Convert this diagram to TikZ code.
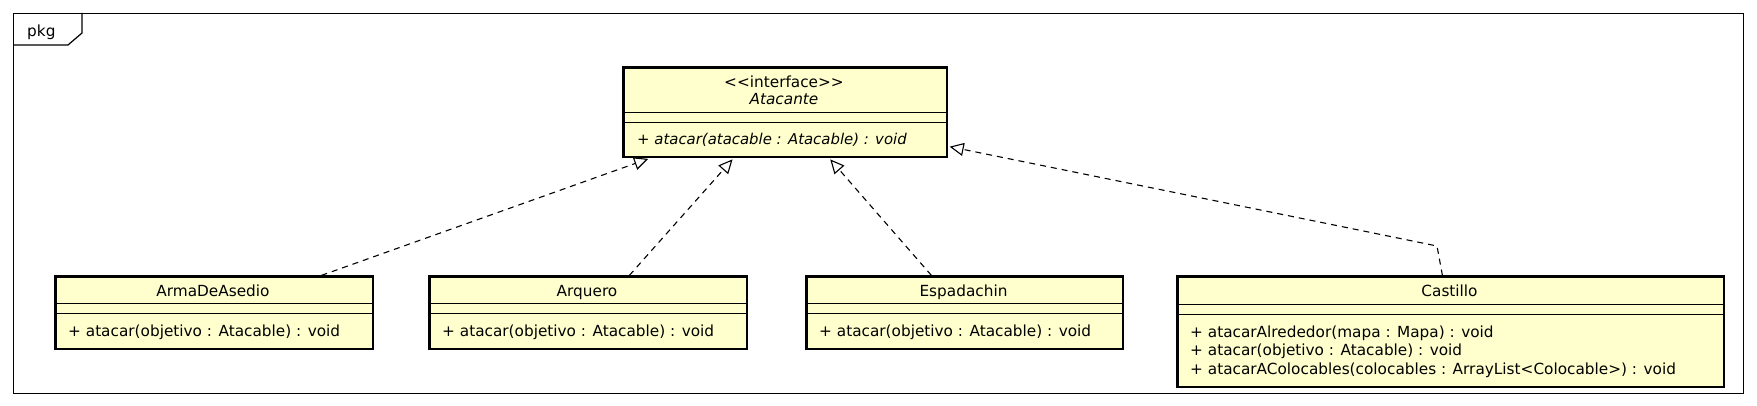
\documentclass[tikz,border=0pt]{standalone}
\usepackage{fontspec}
\setmainfont{DejaVu Sans}
\usetikzlibrary{arrows.meta}
\definecolor{classfill}{RGB}{255,255,206}
\tikzset{
  classbox/.style={draw, line width=2.8pt, fill=classfill, anchor=north west, inner sep=0pt},
  sepline/.style={line width=1pt},
  umltext/.style={font=\fontsize{15.3}{18}\selectfont, inner sep=0pt},
  titletext/.style={umltext, anchor=base},
  membertext/.style={umltext, anchor=base west},
  realize/.style={dash pattern=on 6pt off 5pt, line width=1.1pt,
    -{Triangle[length=14pt, width=13pt, fill=white, line width=1.1pt]}, shorten >=1.3pt},
  framebox/.style={draw, line width=1.2pt, anchor=north west, inner sep=0pt}
}
\begin{document}
\begin{tikzpicture}[x=1pt, y=-1pt]
\useasboundingbox[fill=white] (0,0) rectangle (1757,406);

% package frame
\node[framebox, minimum width=1730pt, minimum height=380pt] (frame) at (13,13) {};
\draw[line width=1.2pt] (13,45) -- (68,45) -- (82,33) -- (82,13);
\node[membertext] (pkg) at (27,36.5) {pkg};

% interface Atacante
\node[classbox, minimum width=323.2pt, minimum height=89.2pt] (atacante) at (622.4,66.4) {};
\draw[sepline] (atacante.west |- 0,113) -- (atacante.east |- 0,113);
\draw[sepline] (atacante.west |- 0,123) -- (atacante.east |- 0,123);
\node[titletext] (atacanteStereo) at (784,87.5) {<{}<interface>{}>};
\node[titletext] (atacanteName) at (784,105) {\itshape Atacante};
\node[membertext, font=\fontsize{14.9}{18}\selectfont\itshape] (atacanteOp) at (637,145) {+ atacar(atacable : Atacable) : void};

% ArmaDeAsedio
\node[classbox, minimum width=317.2pt, minimum height=72.2pt] (arma) at (54.4,275.4) {};
\draw[sepline] (arma.west |- 0,303) -- (arma.east |- 0,303);
\draw[sepline] (arma.west |- 0,313) -- (arma.east |- 0,313);
\node[titletext] (armaName) at (213,296) {ArmaDeAsedio};
\node[membertext] (armaOp) at (68,336) {+ atacar(objetivo : Atacable) : void};

% Arquero
\node[classbox, minimum width=317.2pt, minimum height=72.2pt] (arquero) at (428.4,275.4) {};
\draw[sepline] (arquero.west |- 0,303) -- (arquero.east |- 0,303);
\draw[sepline] (arquero.west |- 0,313) -- (arquero.east |- 0,313);
\node[titletext] (arqueroName) at (587,296) {Arquero};
\node[membertext] (arqueroOp) at (442,336) {+ atacar(objetivo : Atacable) : void};

% Espadachin
\node[classbox, minimum width=316.2pt, minimum height=72.2pt] (espada) at (805.4,275.4) {};
\draw[sepline] (espada.west |- 0,303) -- (espada.east |- 0,303);
\draw[sepline] (espada.west |- 0,313) -- (espada.east |- 0,313);
\node[titletext] (espadaName) at (963.5,296) {Espadachin};
\node[membertext] (espadaOp) at (819,336) {+ atacar(objetivo : Atacable) : void};

% Castillo
\node[classbox, minimum width=546.2pt, minimum height=110.2pt] (castillo) at (1176.4,275.4) {};
\draw[sepline] (castillo.west |- 0,304) -- (castillo.east |- 0,304);
\draw[sepline] (castillo.west |- 0,314) -- (castillo.east |- 0,314);
\node[titletext] (castilloName) at (1449.5,296) {Castillo};
\node[membertext] (castilloOpA) at (1190,337) {+ atacarAlrededor(mapa : Mapa) : void};
\node[membertext] (castilloOpB) at (1190,355.5) {+ atacar(objetivo : Atacable) : void};
\node[membertext] (castilloOpC) at (1190,374) {+ atacarAColocables(colocables : ArrayList<Colocable>) : void};

% realizations
\coordinate (castBend) at (1437,246);
\draw[realize] ([xshift=107pt]arma.north) -- ([xshift=-136pt]atacante.south);
\draw[realize] ([xshift=41pt]arquero.north) -- ([xshift=-52pt]atacante.south);
\draw[realize] ([xshift=-33.5pt]espada.north) -- ([xshift=44pt]atacante.south);
\draw[realize] ([xshift=-8.5pt]castillo.north) -- (castBend) -- ([yshift=-34pt]atacante.east);
\end{tikzpicture}
\end{document}
